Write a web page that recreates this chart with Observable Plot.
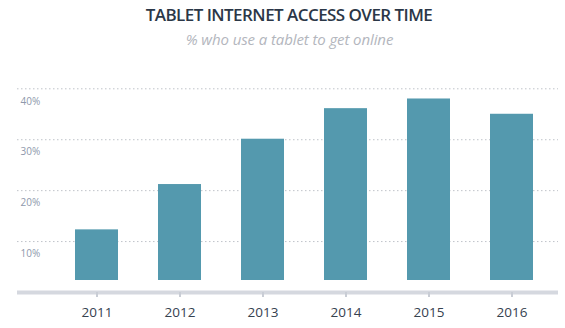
<!DOCTYPE html>
<html>
<head>
<meta charset="utf-8">
<script src="https://cdn.jsdelivr.net/npm/d3@7"></script>
<script src="https://cdn.jsdelivr.net/npm/@observablehq/plot@0.6"></script>
<style>
  html, body { margin: 0; padding: 0; background: #fff; }
  #wrap { width: 565px; font-family: "Open Sans", sans-serif; }
  #header { position: relative; height: 60px; }
  #title { position: absolute; left: 13px; right: 0; top: 2px; text-align: center;
           font-size: 17px; font-weight: 600; line-height: 26px; color: #2b3747; letter-spacing: -0.55px; }
  #subtitle { position: absolute; left: 14px; right: 0; top: 29px; text-align: center;
              font-size: 15px; font-style: italic; line-height: 20px; color: #b3b6bd; letter-spacing: -0.1px; }
  #chart svg { display: block; }
</style>
</head>
<body>
<div id="wrap">
  <div id="header">
    <div id="title">TABLET INTERNET ACCESS OVER TIME</div>
    <div id="subtitle">% who use a tablet to get online</div>
  </div>
  <div id="chart"></div>
</div>
<script>
const years = ["2011", "2012", "2013", "2014", "2015", "2016"];
const shares = [12.3, 21.2, 30.1, 36.1, 38.0, 35.0];
const yTicks = [10, 20, 30, 40];

const data = years.map((year, i) => ({year, share: shares[i]}));

const chart = Plot.plot({
  width: 565,
  height: 268,
  marginLeft: 17,
  marginRight: 7,
  marginTop: 28,
  marginBottom: 36,
  style: {fontFamily: "'Open Sans', sans-serif", background: "#fff"},
  x: {domain: years, range: [52.5, 554.7], paddingInner: 0.48, paddingOuter: 0.24},
  y: {domain: [0, 40], range: [232, 28.3]},
  marks: [
    Plot.ruleY(yTicks, {stroke: "#bfc3c9", strokeWidth: 1, strokeDasharray: "1.5,2.5"}),
    Plot.text(yTicks, {
      y: d => d, frameAnchor: "left", dx: 3, dy: 12.5,
      text: d => d + "%", textAnchor: "start",
      fill: "#8e98ab", fontSize: 10
    }),
    Plot.barY(data, {x: "year", y: "share", fill: "#5499ae", insetBottom: 12}),
    Plot.ruleY([0], {stroke: "#d5d8df", strokeWidth: 4}),
    Plot.axisX({
      tickSize: 5, tickPadding: 10, stroke: "#c9cdd5", strokeWidth: 2,
      fill: "#36424f", fontSize: 13.5, label: null
    }),
    Plot.axisY({ticks: [], label: null})
  ]
});
document.getElementById("chart").appendChild(chart);
</script>
</body>
</html>
